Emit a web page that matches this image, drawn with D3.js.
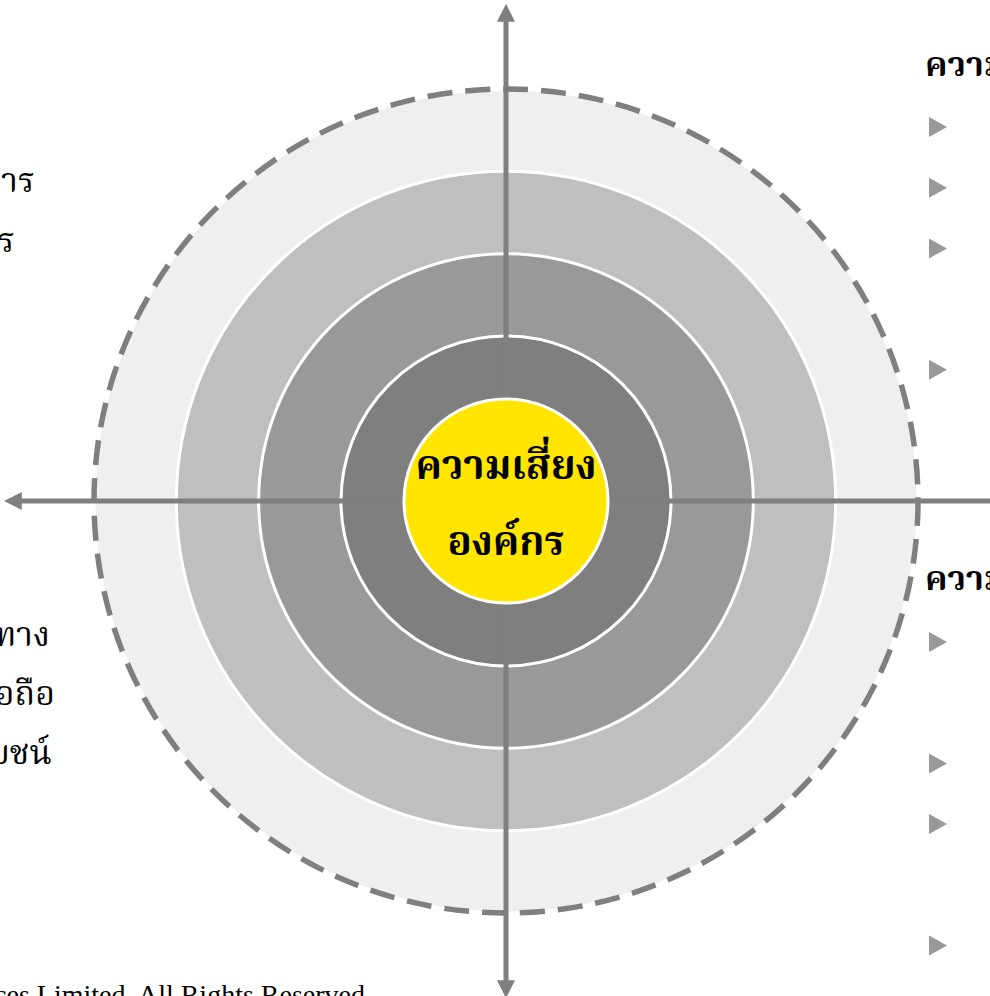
<!DOCTYPE html>
<html>
<head>
<meta charset="utf-8">
<script src="https://cdn.jsdelivr.net/npm/d3@7"></script>
<style>
  html, body { margin: 0; padding: 0; background: #fff; overflow: hidden; }
  svg { display: block; }
  .thai { font-family: "Kinnari", "Norasi", "Noto Serif Thai", "Noto Sans Thai Looped", "Loma", "Garuda", "Noto Sans Thai", serif; }
</style>
</head>
<body>
<svg id="chart"></svg>
<script>
// ring levels, outermost first
const levels = [4, 3, 2, 1];
const ringFill = ['#efefef', '#bfbfbf', '#999999', '#7f7f7f'];
const centerLabel = ['ความเสี่ยง', 'องค์กร'];

// side texts (clipped by the page edges)
const leftTop = ['ด้านการ', 'องค์กร'];
const leftBottom = ['ด้านกลยุทธ์ทาง', 'ความน่าเชื่อถือ', 'ผลประโยชน์'];
const rightHeads = ['ความเสี่ยงด้านการเงิน', 'ความเสี่ยงด้านปฏิบัติการ'];
const rightBulletsTop = [0, 1, 2, 4];
const rightBulletsBottom = [0, 2, 3, 5];
const footer = '© 2019 Services Limited. All Rights Reserved.';

const WIDTH = 990, HEIGHT = 996;
const cx = 506, cy = 501;

const svg = d3.select('#chart')
  .attr('width', WIDTH)
  .attr('height', HEIGHT);

const r = d3.scaleLinear().domain([0, 1, 4]).range([0, 165, 412]);

const defs = svg.append('defs');
defs.append('marker')
  .attr('id', 'arrow')
  .attr('viewBox', '0 0 10 10')
  .attr('refX', 1).attr('refY', 5)
  .attr('markerWidth', 3.6).attr('markerHeight', 3.6)
  .attr('orient', 'auto-start-reverse')
  .append('path')
  .attr('d', 'M0,0 L10,5 L0,10 z')
  .attr('fill', '#7f7f7f');

const g = svg.append('g').attr('transform', `translate(${cx},${cy})`);

// rings
g.selectAll('circle.ring')
  .data(levels)
  .join('circle')
  .attr('class', 'ring')
  .attr('r', d => r(d))
  .attr('fill', (d, i) => ringFill[i])
  .attr('stroke', '#fff')
  .attr('stroke-width', 3);

// dashed outline
g.append('circle')
  .attr('r', r(4))
  .attr('fill', 'none')
  .attr('stroke', '#7f7f7f')
  .attr('stroke-width', 5.5)
  .attr('stroke-dasharray', '25 13');

// axes
g.append('line')
  .attr('x1', 0).attr('y1', cy - 20).attr('x2', 0).attr('y2', -cy + 20)
  .attr('stroke', '#7f7f7f').attr('stroke-width', 5)
  .attr('marker-start', 'url(#arrow)').attr('marker-end', 'url(#arrow)');
g.append('line')
  .attr('x1', cx - 20).attr('y1', 0).attr('x2', -cx + 20).attr('y2', 0)
  .attr('stroke', '#7f7f7f').attr('stroke-width', 5)
  .attr('marker-start', 'url(#arrow)').attr('marker-end', 'url(#arrow)');

// centre
g.append('circle')
  .attr('r', 102)
  .attr('fill', '#ffe500')
  .attr('stroke', '#fff')
  .attr('stroke-width', 3);

g.selectAll('text.center')
  .data(centerLabel)
  .join('text')
  .attr('class', 'center thai')
  .attr('x', 0)
  .attr('y', (d, i) => -22 + i * 76)
  .attr('text-anchor', 'middle')
  .style('font-size', '40px')
  .style('font-weight', 'bold')
  .text(d => d);

// left texts
svg.selectAll('text.lt')
  .data(leftTop)
  .join('text')
  .attr('class', 'lt thai')
  .attr('x', (d, i) => i === 0 ? 35 : 15)
  .attr('y', (d, i) => 192 + i * 60)
  .attr('text-anchor', 'end')
  .style('font-size', '34px')
  .text(d => d);

svg.selectAll('text.lb')
  .data(leftBottom)
  .join('text')
  .attr('class', 'lb thai')
  .attr('x', (d, i) => [50, 55, 52][i])
  .attr('y', (d, i) => 646 + i * 59)
  .attr('text-anchor', 'end')
  .style('font-size', '34px')
  .text(d => d);

// right headings and bullets
const rowH = 60.7;
[[rightHeads[0], 76, 127, rightBulletsTop], [rightHeads[1], 590, 642, rightBulletsBottom]].forEach(([head, hy, by, rows]) => {
  svg.append('text')
    .attr('class', 'thai')
    .attr('x', 925).attr('y', hy)
    .style('font-size', '34px')
    .style('font-weight', 'bold')
    .text(head);
  svg.selectAll(null)
    .data(rows)
    .join('path')
    .attr('d', d => `M929,${by + d * rowH - 10} L947,${by + d * rowH} L929,${by + d * rowH + 10} z`)
    .attr('fill', '#999999');
});

// footer
svg.append('text')
  .attr('x', 372).attr('y', 1004)
  .attr('text-anchor', 'end')
  .style('font-family', '"Liberation Serif", "Times New Roman", serif')
  .style('font-size', '28px')
  .text(footer);
</script>
</body>
</html>
